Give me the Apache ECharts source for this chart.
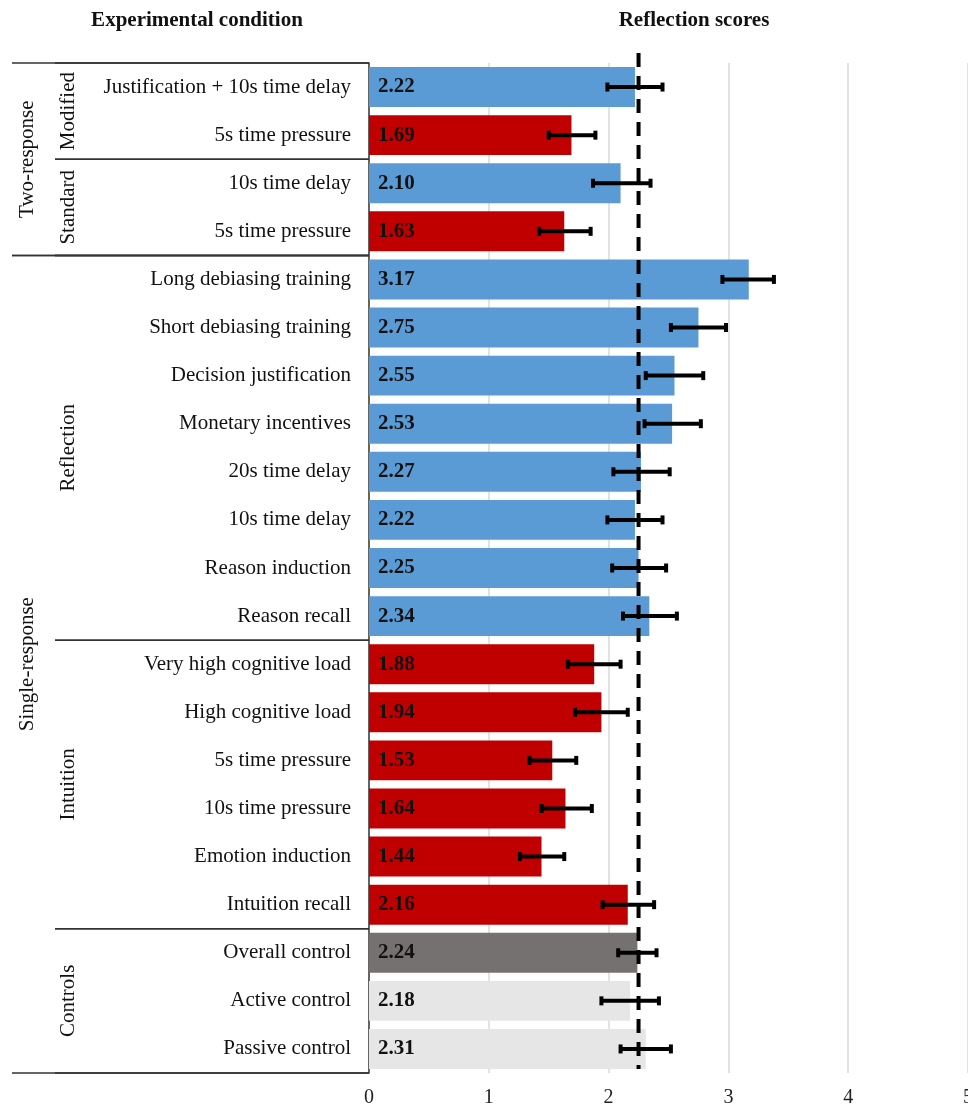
<!DOCTYPE html>
<html>
<head>
<meta charset="utf-8">
<script src="https://cdn.jsdelivr.net/npm/echarts@6/dist/echarts.min.js"></script>
<style>
html,body{margin:0;padding:0;background:#fff;}
#chart{width:968px;height:1109px;}
</style>
</head>
<body>
<div id="chart"></div>
<script>
// ---- data ----
var categories = [
  "Justification + 10s time delay", "5s time pressure", "10s time delay", "5s time pressure",
  "Long debiasing training", "Short debiasing training", "Decision justification", "Monetary incentives",
  "20s time delay", "10s time delay", "Reason induction", "Reason recall",
  "Very high cognitive load", "High cognitive load", "5s time pressure", "10s time pressure",
  "Emotion induction", "Intuition recall",
  "Overall control", "Active control", "Passive control"
];
var scores = [2.22, 1.69, 2.10, 1.63, 3.17, 2.75, 2.55, 2.53, 2.27, 2.22, 2.25, 2.34,
              1.88, 1.94, 1.53, 1.64, 1.44, 2.16, 2.24, 2.18, 2.31];
var errLow  = [1.99, 1.50, 1.87, 1.42, 2.95, 2.52, 2.31, 2.30, 2.04, 1.99, 2.03, 2.12,
               1.66, 1.72, 1.34, 1.44, 1.26, 1.95, 2.08, 1.94, 2.10];
var errHigh = [2.45, 1.89, 2.35, 1.85, 3.38, 2.98, 2.79, 2.77, 2.51, 2.45, 2.48, 2.57,
               2.10, 2.16, 1.73, 1.86, 1.63, 2.38, 2.40, 2.42, 2.52];
// condition type per row: R = reflection, I = intuition, O = overall control, C = control
var kinds = ["R","I","R","I","R","R","R","R","R","R","R","R","I","I","I","I","I","I","O","C","C"];
var referenceLine = 2.25;
var groupNames  = ["Two-response", "Modified", "Standard", "Single-response", "Reflection", "Intuition", "Controls"];
var groupStart  = [0, 0, 2, 4, 4, 12, 18];
var groupEnd    = [3, 1, 3, 20, 11, 17, 20];
var groupLevel  = [0, 1, 1, 0, 1, 1, 1];
var xTicks = [0, 1, 2, 3, 4, 5];

// ---- styling ----
var kindColor = { R: "#5B9BD5", I: "#C00000", O: "#767171", C: "#E7E6E6" };
var SERIF = "'Liberation Serif', 'Times New Roman', serif";
var GRID = { left: 369, right: 0, top: 63, bottom: 36, outerBoundsMode: 'none', containLabel: false };
var levelTextX = [27, 68];
var levelLineX = [12, 55];

var chart = echarts.init(document.getElementById('chart'), null, { renderer: 'canvas' });

var option = {
  animation: false,
  backgroundColor: '#ffffff',
  grid: GRID,
  xAxis: {
    type: 'value', min: xTicks[0], max: xTicks[xTicks.length - 1], interval: 1,
    axisLine: { show: false }, axisTick: { show: false },
    axisLabel: { fontFamily: SERIF, fontSize: 20, color: '#222', margin: 15 },
    splitLine: { show: true, lineStyle: { color: '#D9D9D9', width: 1.5 } }
  },
  yAxis: {
    type: 'category', data: categories, inverse: true,
    axisLine: { show: true, lineStyle: { color: '#3a3a3a', width: 1.5 } },
    axisTick: { show: false },
    axisLabel: { fontFamily: SERIF, fontSize: 21, color: '#111', margin: 18 }
  },
  graphic: [
    { type: 'text', x: 197, y: 21, style: { text: 'Experimental condition', font: 'bold 21px ' + SERIF, fill: '#111', textAlign: 'center', textVerticalAlign: 'middle' } },
    { type: 'text', x: 694, y: 21, style: { text: 'Reflection scores', font: 'bold 21px ' + SERIF, fill: '#111', textAlign: 'center', textVerticalAlign: 'middle' } }
  ],
  series: [
    {
      type: 'bar',
      data: scores,
      barCategoryGap: '17%',
      itemStyle: {
        color: function (p) { return kindColor[kinds[p.dataIndex]]; }
      },
      label: {
        show: true, position: 'insideLeft', distance: 9,
        formatter: function (p) { return p.value.toFixed(2); },
        fontFamily: SERIF, fontSize: 21, fontWeight: 'bold', color: '#111'
      },
      z: 2
    },
    {
      // reference dashed line
      type: 'custom', clip: false, z: 5,
      data: [[referenceLine]],
      renderItem: function (params, api) {
        var cs = params.coordSys;
        var x = api.coord([api.value(0), 0])[0];
        return {
          type: 'line',
          shape: { x1: x, y1: cs.y - 10, x2: x, y2: cs.y + cs.height - 4 },
          style: { stroke: '#000', lineWidth: 4, lineDash: [14, 9] }
        };
      }
    },
    {
      // error bars
      type: 'custom', clip: false, z: 6,
      data: scores.map(function (s, i) { return [errLow[i], errHigh[i], i]; }),
      renderItem: function (params, api) {
        var a = api.coord([api.value(0), api.value(2)]);
        var b = api.coord([api.value(1), api.value(2)]);
        var h = 4.5;
        var st = { stroke: '#000', lineWidth: 4 };
        var cap = { stroke: '#000', lineWidth: 4 };
        return {
          type: 'group',
          children: [
            { type: 'line', shape: { x1: a[0], y1: a[1], x2: b[0], y2: b[1] }, style: st },
            { type: 'line', shape: { x1: a[0], y1: a[1] - h, x2: a[0], y2: a[1] + h }, style: cap },
            { type: 'line', shape: { x1: b[0], y1: b[1] - h, x2: b[0], y2: b[1] + h }, style: cap }
          ]
        };
      }
    },
    {
      // group brackets and labels
      type: 'custom', clip: false, z: 4, silent: true,
      data: groupNames.map(function (n, i) { return [groupStart[i], groupEnd[i], groupLevel[i], i]; }),
      renderItem: function (params, api) {
        var cs = params.coordSys;
        var band = api.size([0, 1])[1];
        var yTop = api.coord([0, api.value(0)])[1] - band / 2;
        var yBot = api.coord([0, api.value(1)])[1] + band / 2;
        var lvl = api.value(2);
        var name = groupNames[api.value(3)];
        var lx = levelLineX[lvl];
        var st = { stroke: '#333', lineWidth: 1.5 };
        return {
          type: 'group',
          children: [
            { type: 'line', shape: { x1: lx, y1: yTop, x2: cs.x, y2: yTop }, style: st },
            { type: 'line', shape: { x1: lx, y1: yBot, x2: cs.x, y2: yBot }, style: st },
            {
              type: 'text', x: levelTextX[lvl], y: (yTop + yBot) / 2, rotation: Math.PI / 2,
              style: { text: name, font: '21px ' + SERIF, fill: '#111', textAlign: 'center', textVerticalAlign: 'middle' }
            }
          ]
        };
      }
    }
  ]
};
chart.setOption(option);
</script>
</body>
</html>
